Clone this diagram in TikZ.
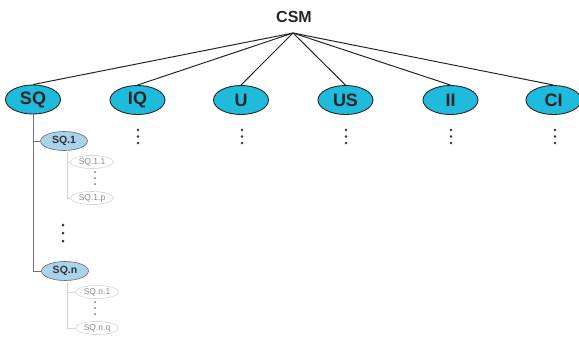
\documentclass[tikz,border=0pt]{standalone}
\usepackage{fontspec}
\setmainfont{Liberation Sans}
\usetikzlibrary{shapes.geometric}
\definecolor{topfill}{HTML}{1EBBDD}
\definecolor{subfill}{HTML}{A9D3EC}
\definecolor{leafline}{HTML}{D4D4D4}
\definecolor{leaftext}{HTML}{8A8A8A}
\begin{document}
\begin{tikzpicture}[x=1pt,y=-1pt,
  topnode/.style={ellipse,draw=black!85,line width=0.9pt,fill=topfill,minimum width=55pt,minimum height=29pt,inner sep=0pt,font=\bfseries\fontsize{18}{18}\selectfont,text=black!85},
  subnode/.style={ellipse,draw=black!60,line width=0.6pt,fill=subfill,minimum width=47pt,minimum height=19pt,inner sep=0pt,font=\bfseries\fontsize{10.5}{10.5}\selectfont,text=black!80},
  leafnode/.style={ellipse,draw=leafline,line width=0.6pt,fill=white,minimum width=43pt,minimum height=13pt,inner sep=0pt,font=\fontsize{8.5}{8.5}\selectfont,text=leaftext},
  conn/.style={draw=black!85,line width=1pt},
  subconn/.style={draw=black!55,line width=0.6pt},
  leafconn/.style={draw=leafline,line width=0.6pt},
  bigdot/.style={fill=black!80},
  leafdot/.style={fill=black!55}
]
\useasboundingbox (0,0) rectangle (579,338);
\node[font=\bfseries\fontsize{16}{16}\selectfont,text=black!85] (csm) at (294,17) {CSM};
\coordinate (hub) at (293,33);
\node[topnode] (sq) at (33,99.5) {SQ};
\node[topnode] (iq) at (137.5,100) {IQ};
\node[topnode] (u) at (241,100) {U};
\node[topnode] (us) at (345.5,100) {US};
\node[topnode] (ii) at (450.5,100) {II};
\node[topnode] (ci) at (553.5,100) {CI};
\foreach \n in {sq,iq,u,us,ii,ci} \draw[conn] (hub) -- (\n.north);
\foreach \x in {138,242,346,451,555}
  \foreach \y in {130,136.5,143} \fill[bigdot] (\x,\y) circle (1.4);
% SQ subtree
\node[subnode] (sq1) at (64,141) {SQ.1};
\node[subnode] (sqn) at (65,271) {SQ.n};
\coordinate (sqk1) at (33,141);
\coordinate (sqkn) at (33,271);
\draw[subconn] (sq.south) -- (sqkn) -- (sqn.west);
\draw[subconn] (sqk1) -- (sq1.west);
\foreach \y in {225,233,241} \fill[bigdot] (63,\y) circle (1.5);
% SQ.1 leaves
\node[leafnode] (sq11) at (92,162) {SQ.1.1};
\node[leafnode] (sq1p) at (92,198) {SQ.1.p};
\foreach \y in {172,178,184} \fill[leafdot] (95,\y) circle (1.0);
\coordinate (a1) at (67,150);
\coordinate (a2) at (67,162);
\coordinate (a3) at (67,198);
\draw[leafconn] (a1) -- (a3) -- (sq1p.west);
\draw[leafconn] (a2) -- (sq11.west);
% SQ.n leaves
\node[leafnode] (sqn1) at (97,292) {SQ.n.1};
\node[leafnode] (sqnq) at (97,328) {SQ.n.q};
\foreach \y in {302,308,314} \fill[leafdot] (95,\y) circle (1.0);
\coordinate (b1) at (67,282);
\coordinate (b2) at (67,292);
\coordinate (b3) at (67,328);
\draw[leafconn] (b1) -- (b3) -- (sqnq.west);
\draw[leafconn] (b2) -- (sqn1.west);
\end{tikzpicture}
\end{document}
